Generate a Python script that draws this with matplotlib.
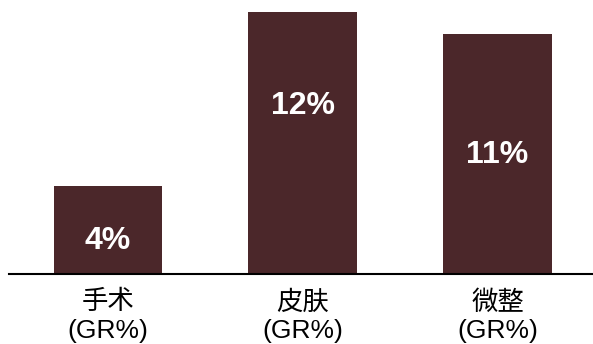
import matplotlib
matplotlib.use("Agg")
import matplotlib.pyplot as plt

categories = ["手术\n(GR%)", "皮肤\n(GR%)", "微整\n(GR%)"]
values = [4, 12, 11]
value_labels = ["4%", "12%", "11%"]
label_y = [1.51, 7.67, 5.46]  # vertical position of value labels (data units)

plt.rcParams['font.family'] = ['Liberation Sans', 'Noto Sans CJK SC', 'DejaVu Sans']

fig = plt.figure(figsize=(5.93, 3.44), dpi=100)
ax = fig.add_axes([9 / 593, (344 - 273.5) / 344, 584 / 593, 273.5 / 344])

x = list(range(len(values)))
ax.bar(x, values, width=0.555, color="#4b272a", zorder=2)

for xi, txt, yl in zip(x, value_labels, label_y):
    ax.text(xi, yl, txt, ha="center", va="center", color="white",
            fontsize=23, fontweight="bold", zorder=3)

ax.set_xlim(-0.506, 2.49)
ax.set_ylim(0, 12.55)
for s in ["top", "right", "left"]:
    ax.spines[s].set_visible(False)
ax.spines["bottom"].set_linewidth(1.5)
ax.spines["bottom"].set_color("black")
ax.set_yticks([])
ax.set_xticks(x)
ax.set_xticklabels(categories, fontsize=19, linespacing=1.25)
ax.tick_params(axis="x", length=0, pad=12)

fig.savefig("out.png", dpi=100)
